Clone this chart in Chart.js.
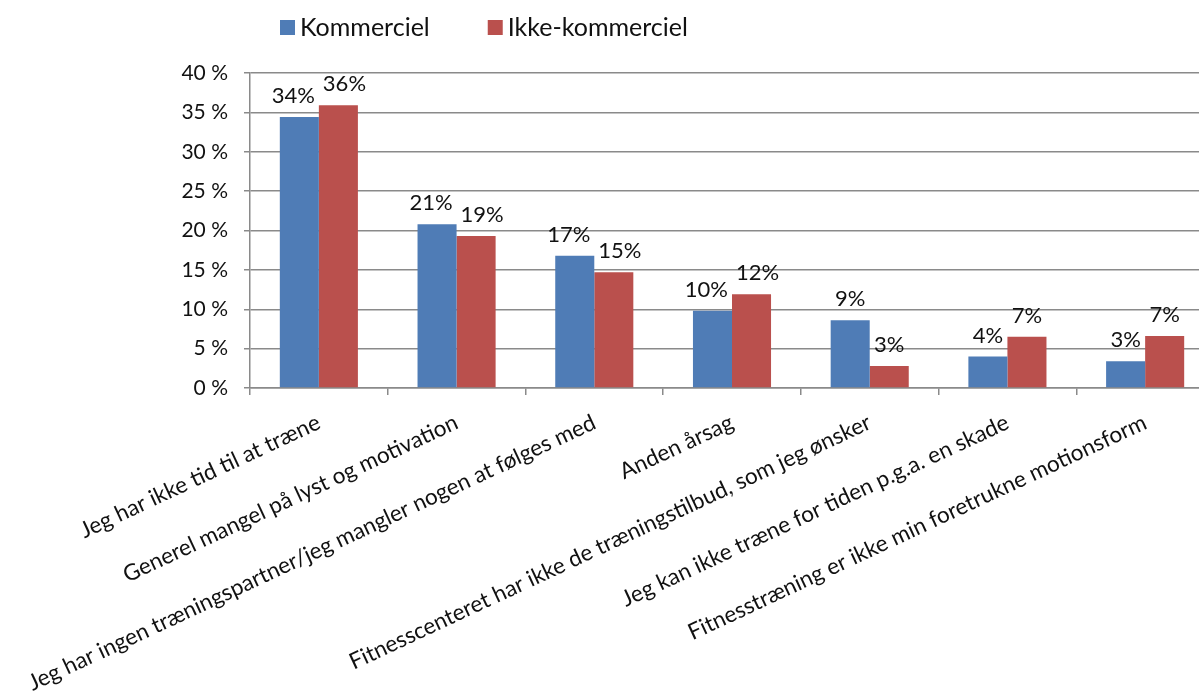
<!DOCTYPE html>
<html><head><meta charset="utf-8">
<script src="https://cdn.jsdelivr.net/npm/chart.js@4.4.0/dist/chart.umd.min.js"></script>
<style>html,body{margin:0;padding:0;overflow:hidden;background:#fff}#wrap{position:relative;width:1225px;height:698px}</style>
</head><body><div id="wrap"><canvas id="c"></canvas></div>
<script>
const categories = [
  'Jeg har ikke tid til at træne',
  'Generel mangel på lyst og motivation',
  'Jeg har ingen træningspartner/jeg mangler nogen at følges med',
  'Anden årsag',
  'Fitnesscenteret har ikke de træningstilbud, som jeg ønsker',
  'Jeg kan ikke træne for tiden p.g.a. en skade',
  'Fitnesstræning er ikke min foretrukne motionsform'
];
const seriesNames = ['Kommerciel', 'Ikke-kommerciel'];
const kommerciel = [34.4, 20.8, 16.8, 9.8, 8.6, 4.0, 3.4];
const ikkeKommerciel = [35.9, 19.3, 14.7, 11.9, 2.8, 6.5, 6.6];
const yTickValues = [0, 5, 10, 15, 20, 25, 30, 35, 40];

const FONT = 'Lato, "Open Sans", sans-serif';
const BLUE = '#4F7CB6';
const RED = '#BA504D';
const GRID = '#8A8A8A';

const dataLabels = {
  id: 'dataLabels',
  afterDatasetsDraw(chart) {
    const ctx = chart.ctx;
    ctx.save();
    ctx.font = '22px ' + FONT;
    ctx.fillStyle = '#111';
    ctx.textAlign = 'center';
    ctx.textBaseline = 'alphabetic';
    const ds = chart.data.datasets;
    const m0 = chart.getDatasetMeta(0), m1 = chart.getDatasetMeta(1);
    chart.data.labels.forEach((_, i) => {
      const t0 = Math.round(ds[0].data[i]) + '%';
      const t1 = Math.round(ds[1].data[i]) + '%';
      const e0 = m0.data[i], e1 = m1.data[i];
      const w0 = ctx.measureText(t0).width, w1 = ctx.measureText(t1).width;
      let x0 = e0.x, x1 = e1.x;
      const need = (w0 + w1) / 2 + 8;
      const dist = x1 - x0;
      if (dist < need) {
        const d = (need - dist) / 2;
        x0 -= d; x1 += d;
      }
      ctx.fillText(t0, x0, e0.y - 14);
      ctx.fillText(t1, x1, e1.y - 14);
    });
    ctx.restore();
  }
};

const customLegend = {
  id: 'customLegend',
  afterDraw(chart) {
    const ctx = chart.ctx;
    ctx.save();
    ctx.font = '25px ' + FONT;
    ctx.textBaseline = 'middle';
    ctx.textAlign = 'left';
    let x = 280;
    const y = 28;
    chart.data.datasets.forEach(ds => {
      ctx.fillStyle = ds.backgroundColor;
      ctx.fillRect(x, y - 8, 15, 15);
      ctx.fillStyle = '#111';
      ctx.fillText(ds.label, x + 20, y);
      x += 20 + ctx.measureText(ds.label).width + 58;
    });
    ctx.restore();
  }
};

new Chart(document.getElementById('c'), {
  type: 'bar',
  data: {
    labels: categories,
    datasets: [
      { label: seriesNames[0], data: kommerciel, backgroundColor: BLUE },
      { label: seriesNames[1], data: ikkeKommerciel, backgroundColor: RED }
    ]
  },
  plugins: [dataLabels, customLegend],
  options: {
    responsive: true,
    maintainAspectRatio: false,
    animation: false,
    layout: { padding: { left: 150, right: 11, top: 73, bottom: 0 } },
    plugins: { legend: { display: false }, tooltip: { enabled: false } },
    datasets: { bar: { categoryPercentage: 0.567, barPercentage: 1.0 } },
    scales: {
      x: {
        offset: true,
        grid: { offset: true, drawOnChartArea: false, drawTicks: true, tickLength: 7, color: GRID, lineWidth: 1.5 },
        border: { color: GRID, width: 1.5 },
        ticks: {
          autoSkip: false, minRotation: 25, maxRotation: 25, padding: 14,
          color: '#111', font: { family: FONT, size: 22.5 }
        },
        afterFit(scale) { scale.height = 310; }
      },
      y: {
        min: 0, max: 40,
        afterBuildTicks(scale) { scale.ticks = yTickValues.map(v => ({ value: v })); },
        grid: { color: GRID, lineWidth: 1.5, tickLength: 6 },
        border: { color: GRID, width: 1.5 },
        ticks: {
          padding: 16, color: '#111', font: { family: FONT, size: 21 },
          callback: v => v + ' %'
        },
        afterFit(scale) { scale.width = 100; }
      }
    }
  }
});
</script></body></html>
